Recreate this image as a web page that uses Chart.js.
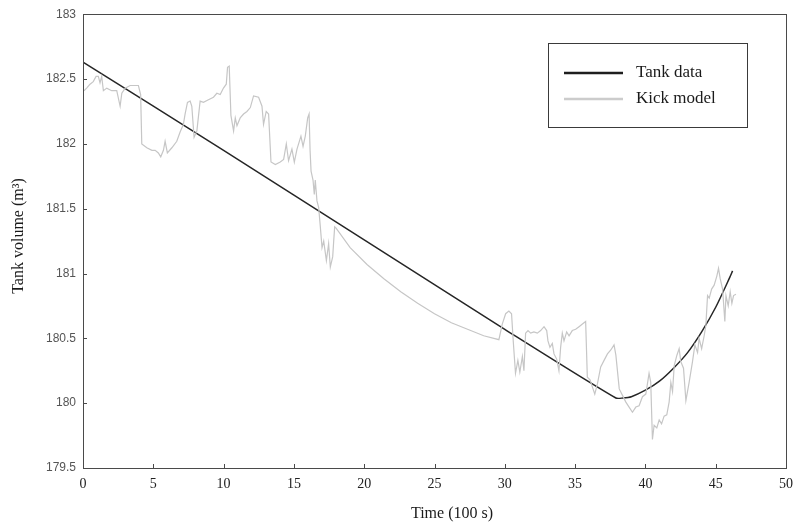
<!DOCTYPE html>
<html>
<head>
<meta charset="utf-8">
<script src="https://cdn.jsdelivr.net/npm/chart.js@4.4.1/dist/chart.umd.min.js"></script>
<style>
  html, body { margin: 0; padding: 0; background: #fff; }
</style>
</head>
<body>
<canvas id="chart" width="796" height="524"></canvas>
<script>
// tank data (black line), time in 100 s, volume in m3
var tankTime = [0, 10, 20, 30, 37.9, 38.4, 39, 40, 41, 42, 43, 44, 45, 46, 46.2];
var tankVolume = [182.63, 181.95, 181.26, 180.57, 180.04, 180.04, 180.05, 180.1, 180.17, 180.27, 180.39, 180.55, 180.74, 180.97, 181.02];

// kick model (grey line)
var kickTime = [
    0.07, 0.26, 0.5, 0.73, 0.93, 1.09, 1.21, 1.33, 1.45, 1.69, 2.04, 2.4, 2.64, 2.76, 3.0, 3.35, 3.7, 3.94,
    4.1, 4.18, 4.54, 4.9, 5.13, 5.36, 5.53, 5.72, 5.84, 6.0, 6.32, 6.67, 6.9, 7.14, 7.26, 7.43, 7.62, 7.74,
    7.9, 8.1, 8.33, 8.57, 8.92, 9.28, 9.52, 9.76, 9.99, 10.19, 10.28, 10.4, 10.52, 10.71, 10.83, 10.95,
    11.18, 11.42, 11.66, 11.9, 12.13, 12.49, 12.73, 12.84, 13.03, 13.2, 13.37, 13.68, 14.03, 14.27, 14.46,
    14.62, 14.86, 15.03, 15.22, 15.5, 15.65, 15.81, 15.98, 16.08, 16.15, 16.22, 16.36, 16.45, 16.52, 16.64,
    16.76, 16.88, 17.0, 17.12, 17.31, 17.47, 17.59, 17.76, 17.83, 17.9, 18.0, 19.0, 20.2, 21.4, 22.6, 23.8,
    25.0, 26.2, 27.35, 28.5, 29.58, 29.7, 29.82, 30.06, 30.29, 30.48, 30.6, 30.76, 30.93, 31.07, 31.25,
    31.36, 31.48, 31.65, 31.84, 32.07, 32.31, 32.55, 32.79, 32.98, 33.07, 33.21, 33.38, 33.5, 33.69, 33.85,
    33.97, 34.09, 34.21, 34.4, 34.57, 34.8, 35.04, 35.28, 35.52, 35.75, 35.87, 36.06, 36.4, 36.59, 36.82,
    37.06, 37.3, 37.54, 37.77, 37.9, 38.14, 38.37, 38.6, 38.84, 39.08, 39.32, 39.55, 39.79, 40.03, 40.26,
    40.38, 40.5, 40.62, 40.81, 40.98, 41.15, 41.33, 41.52, 41.69, 41.81, 41.93, 42.05, 42.24, 42.4, 42.52,
    42.71, 42.88, 43.11, 43.35, 43.52, 43.71, 43.82, 44.0, 44.18, 44.3, 44.42, 44.54, 44.71, 44.89, 45.08,
    45.2, 45.32, 45.49, 45.65, 45.73, 45.89, 46.03, 46.15, 46.27, 46.44
];
var kickVolume = [
    182.41, 182.43, 182.46, 182.48, 182.52, 182.52, 182.47, 182.52, 182.41, 182.43, 182.41, 182.41, 182.29,
    182.39, 182.43, 182.45, 182.45, 182.45, 182.38, 182.0, 181.97, 181.95, 181.95, 181.93, 181.9, 181.95,
    182.02, 181.93, 181.97, 182.02, 182.09, 182.15, 182.23, 182.32, 182.33, 182.29, 182.05, 182.1, 182.33,
    182.32, 182.34, 182.36, 182.39, 182.38, 182.43, 182.46, 182.59, 182.6, 182.22, 182.1, 182.2, 182.14,
    182.2, 182.23, 182.25, 182.28, 182.37, 182.36, 182.29, 182.15, 182.25, 182.23, 181.86, 181.84, 181.86,
    181.88, 182.0, 181.87, 181.96, 181.86, 181.96, 182.06, 181.98, 182.06, 182.2, 182.23, 181.95, 181.79,
    181.72, 181.61, 181.72, 181.56, 181.51, 181.36, 181.2, 181.25, 181.1, 181.23, 181.05, 181.13, 181.25,
    181.36, 181.35, 181.2, 181.07, 180.96, 180.86, 180.77, 180.69, 180.62, 180.57, 180.52, 180.49, 180.55,
    180.61, 180.69, 180.71, 180.69, 180.48, 180.23, 180.33, 180.24, 180.36, 180.25, 180.54, 180.56, 180.54,
    180.55, 180.54, 180.56, 180.59, 180.56, 180.48, 180.43, 180.46, 180.38, 180.34, 180.25, 180.43, 180.54,
    180.48, 180.55, 180.52, 180.56, 180.57, 180.59, 180.61, 180.63, 180.2, 180.18, 180.07, 180.15, 180.28,
    180.33, 180.38, 180.41, 180.45, 180.37, 180.11, 180.06, 180.01, 179.97, 179.93, 179.97, 179.98, 180.05,
    180.07, 180.23, 180.16, 179.72, 179.83, 179.81, 179.87, 179.84, 179.9, 179.91, 180.01, 180.16, 180.09,
    180.29, 180.37, 180.42, 180.32, 180.27, 180.02, 180.16, 180.32, 180.45, 180.39, 180.5, 180.42, 180.52,
    180.6, 180.83, 180.81, 180.88, 180.91, 180.98, 181.04, 180.96, 180.88, 180.63, 180.83, 180.75, 180.86,
    180.77, 180.83, 180.84
];

var xTicks = [0, 5, 10, 15, 20, 25, 30, 35, 40, 45, 50];
var yTicks = [179.5, 180, 180.5, 181, 181.5, 182, 182.5, 183];
var seriesNames = ["Tank data", "Kick model"];

function toPoints(xs, ys) {
    return xs.map(function (x, i) { return { x: x, y: ys[i] }; });
}

// box, inward ticks, axis titles and the legend, drawn on top
var framePlugin = {
    id: "frame",
    afterDraw: function (chart) {
        var ctx = chart.ctx;
        var a = chart.chartArea;
        var xs = chart.scales.x, ys = chart.scales.y;
        ctx.save();
        ctx.strokeStyle = "#4a4a4a";
        ctx.lineWidth = 1;
        ctx.strokeRect(Math.round(a.left) + 0.5, Math.round(a.top) + 0.5,
            Math.round(a.right - a.left), Math.round(a.bottom - a.top));

        ctx.beginPath();
        xTicks.forEach(function (v) {
            var px = Math.round(xs.getPixelForValue(v)) + 0.5;
            ctx.moveTo(px, a.bottom);
            ctx.lineTo(px, a.bottom - 4);
        });
        yTicks.forEach(function (v) {
            var py = Math.round(ys.getPixelForValue(v)) + 0.5;
            ctx.moveTo(a.left, py);
            ctx.lineTo(a.left + 4, py);
        });
        ctx.stroke();

        // axis titles
        ctx.fillStyle = "#1a1a1a";
        ctx.font = "16px 'Liberation Serif', 'Times New Roman', serif";
        ctx.textAlign = "center";
        ctx.textBaseline = "middle";
        ctx.fillText("Time (100 s)", 452, 514);
        ctx.save();
        ctx.translate(19, 236);
        ctx.rotate(-Math.PI / 2);
        ctx.fillText("Tank volume (m³)", 0, 0);
        ctx.restore();

        // legend
        var lx = 548, ly = 43, lw = 199, lh = 84;
        ctx.fillStyle = "#fff";
        ctx.fillRect(lx, ly, lw, lh);
        ctx.strokeStyle = "#3a3a3a";
        ctx.lineWidth = 1;
        ctx.strokeRect(lx + 0.5, ly + 0.5, lw, lh);
        var colors = ["#1e1e1e", "#cccccc"];
        var rows = [73, 99];
        ctx.font = "17px 'Liberation Serif', 'Times New Roman', serif";
        ctx.textAlign = "left";
        for (var i = 0; i < 2; i++) {
            ctx.strokeStyle = colors[i];
            ctx.lineWidth = 2.5;
            ctx.beginPath();
            ctx.moveTo(564, rows[i]);
            ctx.lineTo(623, rows[i]);
            ctx.stroke();
            ctx.fillStyle = "#1a1a1a";
            ctx.fillText(seriesNames[i], 636, rows[i]);
        }
        ctx.restore();
    }
};

new Chart(document.getElementById("chart"), {
    type: "line",
    data: {
        datasets: [
            {
                label: seriesNames[1],
                data: toPoints(kickTime, kickVolume),
                borderColor: "#c6c6c6",
                borderWidth: 1.2,
                pointRadius: 0,
                tension: 0,
            },
            {
                label: seriesNames[0],
                data: toPoints(tankTime, tankVolume),
                borderColor: "#262626",
                borderWidth: 1.5,
                pointRadius: 0,
                tension: 0.25,
            },
        ],
    },
    options: {
        responsive: false,
        animation: false,
        events: [],
        layout: { padding: { top: 13, right: 10, left: 0, bottom: 0 } },
        plugins: {
            legend: { display: false },
            tooltip: { enabled: false },
        },
        scales: {
            x: {
                type: "linear",
                min: 0,
                max: 50,
                afterBuildTicks: function (s) { s.ticks = xTicks.map(function (v) { return { value: v }; }); },
                afterFit: function (s) { s.height = 56; s.paddingLeft = 0; s.paddingRight = 0; },
                grid: { display: false, drawTicks: false },
                border: { display: false },
                ticks: {
                    padding: 8,
                    color: "#222",
                    font: { family: "'Liberation Serif', 'Times New Roman', serif", size: 14 },
                },
            },
            y: {
                type: "linear",
                min: 179.5,
                max: 183,
                afterBuildTicks: function (s) { s.ticks = yTicks.map(function (v) { return { value: v }; }); },
                afterFit: function (s) { s.width = 83; },
                grid: { display: false, drawTicks: false },
                border: { display: false },
                ticks: {
                    padding: 7,
                    color: "#555",
                    font: { family: "'Liberation Sans', Arial, sans-serif", size: 12 },
                    callback: function (v) { return String(Math.round(v * 10) / 10); },
                },
            },
        },
    },
    plugins: [framePlugin],
});
</script>
</body>
</html>
